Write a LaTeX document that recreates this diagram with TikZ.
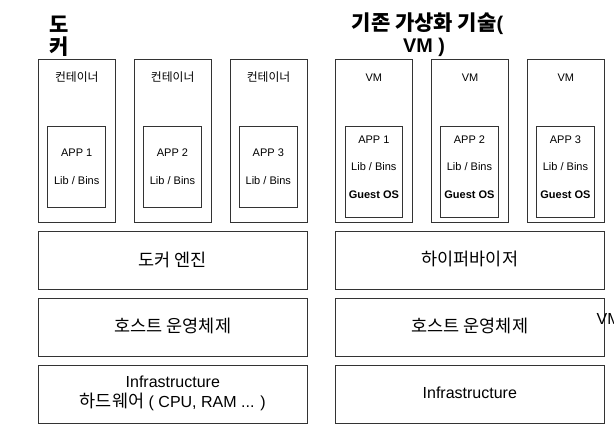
\documentclass[tikz,border=0pt]{standalone}
\usepackage{fontspec}
\setmainfont{Liberation Sans}
\newfontfamily\kr{Noto Sans CJK KR}
\newcommand{\krb}{\kr\fontsize{17.5}{18}\selectfont}
\newcommand{\krs}{\kr\fontsize{11.8}{13}\selectfont}
\newcommand{\krt}{\kr\fontsize{21}{23}\selectfont}
\begin{document}
\begin{tikzpicture}[x=1pt,y=-1pt,
  box/.style={draw=black!80, line width=0.9pt, inner sep=0pt, rectangle},
  cont/.style={box, minimum width=77pt, minimum height=162.7pt},
  appl/.style={box, minimum width=58pt, minimum height=81.7pt},
  appr/.style={box, minimum width=57.7pt, minimum height=91.3pt},
  layer/.style={box, minimum width=269pt, minimum height=57.5pt},
  small/.style={inner sep=0pt, font=\fontsize{11}{13}\selectfont},
  big/.style={inner sep=0pt, font=\fontsize{16}{18}\selectfont, align=center},
  title/.style={inner sep=0pt, font=\fontsize{19.8}{23}\selectfont\bfseries, align=center}]
\useasboundingbox (0,0) rectangle (614,445);
\clip (0,0) rectangle (614,445);
% titles
\node[title, anchor=west] (t1a) at (49,24.5) {\krt 도};
\node[title, anchor=west] (t1b) at (49,47) {\krt 커};
\node[title] (t2a) at (427.5,23.5) {{\krt 기존 가상화 기술}(};
\node[title] (t2b) at (424,47) {VM )};
% docker containers
\foreach \i/\x/\ix in {1/76.8/76.7, 2/172.7/172.5, 3/268.6/268.3}{
  \node[cont] (c\i) at (\x,140.65) {};
  \node[small] (cl\i) at (\x,77) {\krs 컨테이너};
  \node[appl] (a\i) at (\ix,166.85) {};
  \node[small] (an\i) at (\ix,153) {APP \i};
  \node[small] (al\i) at (\ix,181) {Lib / Bins};
}
% VMs
\foreach \i/\x/\ix in {1/373.85/373.85, 2/470/469.5, 3/565.8/565.5}{
  \node[cont, minimum width=77.5pt] (v\i) at (\x,140.65) {};
  \node[small] (vl\i) at (\x,78) {VM};
  \node[appr] (b\i) at (\ix,171.65) {};
  \node[small] (bn\i) at (\ix,139.3) {APP \i};
  \node[small] (bl\i) at (\ix,166.7) {Lib / Bins};
  \node[small, font=\fontsize{11}{13}\selectfont\bfseries] (bg\i) at (\ix,194.3) {Guest OS};
}
% layers left
\node[layer] (de) at (172.8,260.5) {};
\node[big] (det) at (172.8,259.5) {\krb 도커 엔진};
\node[layer] (ho1) at (172.8,327.3) {};
\node[big] (ho1t) at (172.8,326) {\krb 호스트 운영체제};
\node[layer] (in1) at (172.8,394.5) {};
\node[big] (in1t) at (172.8,393.5) {Infrastructure\\[1.5pt]{\krb 하드웨어} ( CPU, RAM ... )};
% layers right
\node[layer] (hv) at (469.8,260.5) {};
\node[big] (hvt) at (469.8,258.5) {\krb 하이퍼바이저};
\node[layer] (ho2) at (469.8,327.3) {};
\node[big] (ho2t) at (469.8,325.5) {\krb 호스트 운영체제};
\node[layer] (in2) at (469.8,394.5) {};
\node[big] (in2t) at (469.8,393) {Infrastructure};
\node[big, anchor=west] (vmc) at (596.5,318.5) {VM};
\end{tikzpicture}
\end{document}
